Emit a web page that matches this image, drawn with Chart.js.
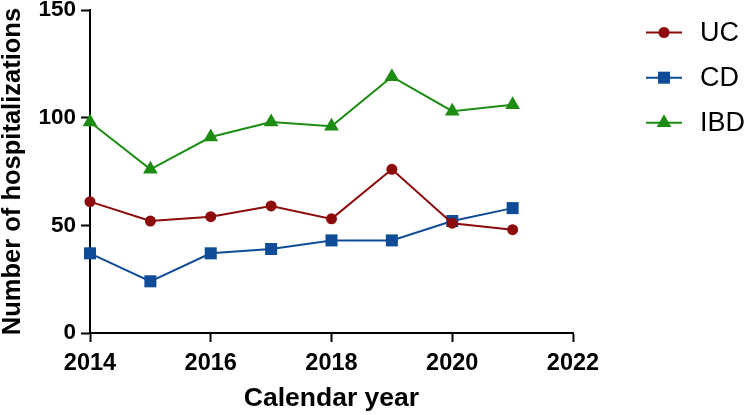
<!DOCTYPE html>
<html>
<head>
<meta charset="utf-8">
<script src="https://cdn.jsdelivr.net/npm/chart.js@4.4.1/dist/chart.umd.min.js"></script>
<style>
  html, body { margin: 0; padding: 0; background: #ffffff; }
  #wrap { width: 744px; height: 415px; position: relative; }
</style>
</head>
<body>
<div id="wrap"><canvas id="c" width="744" height="415"></canvas></div>
<script>
const years = [2014, 2015, 2016, 2017, 2018, 2019, 2020, 2021];
const ucValues  = [61, 52, 54, 59, 53, 76, 51, 48];
const cdValues  = [37, 24, 37, 39, 43, 43, 52, 58];
const ibdValues = [98, 76, 91, 98, 96, 119, 103, 106];
const seriesNames = ['UC', 'CD', 'IBD'];
const xTickValues = [2014, 2016, 2018, 2020, 2022];
const yTickValues = [0, 50, 100, 150];

const colors = ['#8E0B0B', '#0F4C97', '#1C8C12'];
const styles = ['circle', 'rect', 'triangle'];
const radii = [5.5, 8.5, 8.5];

const toPoints = vals => years.map((y, i) => ({ x: y, y: vals[i] }));
const allValues = [ucValues, cdValues, ibdValues];

const datasets = allValues.map((vals, i) => ({
  label: seriesNames[i],
  data: toPoints(vals),
  borderColor: colors[i],
  backgroundColor: colors[i],
  borderWidth: 2,
  pointStyle: styles[i],
  pointRadius: radii[i],
  pointHoverRadius: radii[i],
  pointBorderWidth: 0,
  clip: false,
  tension: 0
}));

const FONT = "'Liberation Sans', Arial, Helvetica, sans-serif";

const legendPlugin = {
  id: 'lineLegend',
  afterDraw(chart) {
    const ctx = chart.ctx;
    const ys = [32.5, 77.7, 122.7];
    chart.data.datasets.forEach((ds, i) => {
      const y = ys[i];
      ctx.save();
      ctx.strokeStyle = ds.borderColor;
      ctx.lineWidth = 2;
      ctx.beginPath();
      ctx.moveTo(646, y);
      ctx.lineTo(682, y);
      ctx.stroke();
      ctx.fillStyle = ds.backgroundColor;
      const cx = 664, r = ds.pointRadius;
      ctx.beginPath();
      if (ds.pointStyle === 'circle') {
        ctx.arc(cx, y, r, 0, Math.PI * 2);
      } else if (ds.pointStyle === 'rect') {
        const s = r * Math.SQRT1_2;
        ctx.rect(cx - s, y - s, 2 * s, 2 * s);
      } else {
        const h = r * 0.866;
        ctx.moveTo(cx, y - r);
        ctx.lineTo(cx + h, y + r / 2);
        ctx.lineTo(cx - h, y + r / 2);
        ctx.closePath();
      }
      ctx.fill();
      ctx.fillStyle = '#000000';
      ctx.font = "27px " + FONT;
      ctx.textBaseline = 'middle';
      ctx.textAlign = 'left';
      ctx.fillText(ds.label, 700, y + 1);
      ctx.restore();
    });
  }
};

new Chart(document.getElementById('c'), {
  type: 'line',
  data: { datasets },
  plugins: [legendPlugin],
  options: {
    responsive: false,
    animation: false,
    events: [],
    layout: { padding: { top: 10, right: 171, left: 0, bottom: 0 } },
    plugins: { legend: { display: false }, tooltip: { enabled: false } },
    scales: {
      x: {
        type: 'linear',
        min: 2014, max: 2022,
        afterBuildTicks(s) { s.ticks = xTickValues.map(v => ({ value: v })); },
        afterFit(s) { s.height = 82; s.paddingLeft = 0; s.paddingRight = 0; },
        grid: { display: true, drawOnChartArea: false, drawTicks: true, tickLength: 9, tickWidth: 2, tickColor: '#000000' },
        border: { display: true, color: '#000000', width: 2 },
        ticks: {
          color: '#000000', padding: 7, maxRotation: 0, autoSkip: false,
          font: { family: FONT, size: 23.5, weight: 'bold' },
          callback: v => String(v)
        },
        title: {
          display: true, text: 'Calendar year', color: '#000000',
          font: { family: FONT, size: 26.5, weight: 'bold', lineHeight: 1 },
          padding: { top: 0, bottom: 3 }
        }
      },
      y: {
        type: 'linear',
        min: 0, max: 150,
        afterBuildTicks(s) { s.ticks = yTickValues.map(v => ({ value: v })); },
        afterFit(s) { s.width = 90; s.paddingTop = 0; s.paddingBottom = 0; },
        grid: { display: true, drawOnChartArea: false, drawTicks: true, tickLength: 9, tickWidth: 2, tickColor: '#000000' },
        border: { display: true, color: '#000000', width: 2 },
        ticks: {
          color: '#000000', padding: 5,
          font: { family: FONT, size: 22.5, weight: 'bold' },
          callback: v => String(v)
        },
        title: {
          display: true, text: 'Number of hospitalizations', color: '#000000',
          font: { family: FONT, size: 25.5, weight: 'bold', lineHeight: 1 },
          padding: { top: 0, bottom: 0 }
        }
      }
    }
  }
});
</script>
</body>
</html>
